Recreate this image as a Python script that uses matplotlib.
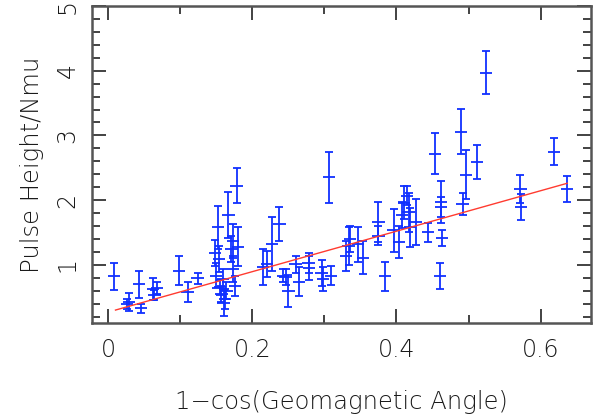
import matplotlib
matplotlib.use("Agg")
import matplotlib.pyplot as plt
from matplotlib.ticker import MultipleLocator

# data: x = 1-cos(geomagnetic angle), y = pulse height / Nmu, yerr = half error
x_vals = [0.0083, 0.029, 0.0255, 0.045, 0.043, 0.0625, 0.064, 0.068, 0.0986, 0.11, 0.124,
          0.152, 0.1667, 0.178, 0.1735, 0.180, 0.148, 0.154, 0.171, 0.1735, 0.150, 0.159,
          0.176, 0.155, 0.164, 0.157, 0.162, 0.160,
          0.2145, 0.22, 0.227, 0.2375, 0.243, 0.246, 0.25, 0.26, 0.265, 0.278, 0.279,
          0.296, 0.298, 0.3065, 0.309, 0.33, 0.3335, 0.336, 0.347, 0.354, 0.375, 0.375,
          0.384, 0.396, 0.404, 0.4075, 0.41, 0.415, 0.419, 0.4275, 0.4167, 0.444,
          0.4537, 0.46, 0.4617, 0.4617, 0.463, 0.49, 0.4917, 0.496, 0.5117, 0.524,
          0.572, 0.573, 0.619, 0.6366]
y_vals = [0.82, 0.42, 0.39, 0.33, 0.70, 0.62, 0.53, 0.64, 0.91, 0.58, 0.79,
          1.58, 1.77, 2.22, 1.37, 1.28, 1.18, 1.09, 1.24, 0.93, 0.83, 0.78,
          0.675, 0.65, 0.60, 0.55, 0.47, 0.41,
          0.97, 1.01, 1.32, 1.63, 0.83, 0.81, 0.59, 1.01, 0.74, 1.03, 0.95,
          0.87, 0.78, 2.35, 0.83, 1.13, 1.29, 1.40, 1.32, 1.11, 1.66, 1.45,
          0.82, 1.53, 1.35, 1.77, 1.96, 2.07, 1.58, 1.66, 1.81, 1.50,
          2.72, 0.82, 1.97, 1.89, 1.41, 3.06, 1.94, 2.39, 2.59, 3.97,
          2.17, 1.89, 2.75, 2.17]
y_errs = [0.21, 0.14, 0.08, 0.07, 0.21, 0.17, 0.08, 0.09, 0.22, 0.15, 0.08,
          0.33, 0.35, 0.27, 0.26, 0.30, 0.20, 0.20, 0.20, 0.20, 0.19, 0.15,
          0.15, 0.12, 0.13, 0.12, 0.15, 0.20,
          0.28, 0.20, 0.42, 0.27, 0.10, 0.12, 0.25, 0.13, 0.23, 0.15, 0.18,
          0.20, 0.18, 0.40, 0.15, 0.23, 0.30, 0.20, 0.27, 0.26, 0.31, 0.15,
          0.23, 0.33, 0.25, 0.20, 0.25, 0.15, 0.30, 0.35, 0.30, 0.15,
          0.32, 0.20, 0.33, 0.15, 0.12, 0.35, 0.17, 0.38, 0.26, 0.33,
          0.21, 0.20, 0.21, 0.20]
x_err = 0.0085

# fitted line end points
fit_x = [0.01, 0.637]
fit_y = [0.30, 2.26]

x_ticks = [0, 0.2, 0.4, 0.6]
x_tick_labels = ["0", "0.2", "0.4", "0.6"]
y_ticks = [1, 2, 3, 4, 5]
y_tick_labels = ["1", "2", "3", "4", "5"]

plt.rcParams['font.family'] = ['DejaVu Sans']
plt.rcParams['font.weight'] = 'light'
fig = plt.figure(figsize=(6.10, 4.19), dpi=100)
ax = fig.add_axes([92/610, 1-323/419, (591-92)/610, (323-6)/419])

blue = '#1030ff'
ax.errorbar(x_vals, y_vals, yerr=y_errs, fmt='none', ecolor=blue,
            elinewidth=1.3, capsize=3, capthick=1.3)
ax.errorbar(x_vals, y_vals, xerr=x_err, fmt='none', ecolor=blue,
            elinewidth=1.3, capsize=0)
ax.plot(fit_x, fit_y, color='#ff3b30', lw=1.0)

ax.set_xlim(-0.0226, 0.670)
ax.set_ylim(0.1, 5.0)
ax.set_xticks(x_ticks)
ax.set_xticklabels(x_tick_labels, fontweight='light')
ax.set_yticks(y_ticks)
ax.set_yticklabels(y_tick_labels, rotation=90, va='center', fontweight='light')
ax.xaxis.set_minor_locator(MultipleLocator(0.1))
ax.yaxis.set_minor_locator(MultipleLocator(0.2))

ax.tick_params(which='both', direction='in', top=True, right=True,
               color='#222222', width=1.2, labelsize=17, labelcolor='#1a1a1a')
ax.tick_params(which='major', length=10)
ax.tick_params(which='minor', length=5.5)
ax.tick_params(axis='x', which='major', pad=11)
ax.tick_params(axis='y', which='major', pad=9)
for s in ax.spines.values():
    s.set_linewidth(1.8)
    s.set_color('#555555')

ax.set_xlabel("1\u2212cos(Geomagnetic Angle)", fontsize=17.5, color='#1a1a1a',
              labelpad=20, fontweight='light')
ax.set_ylabel("Pulse Height/Nmu", fontsize=17.5, color='#1a1a1a',
              labelpad=8, fontweight='light')

fig.savefig("out.png", dpi=100)
